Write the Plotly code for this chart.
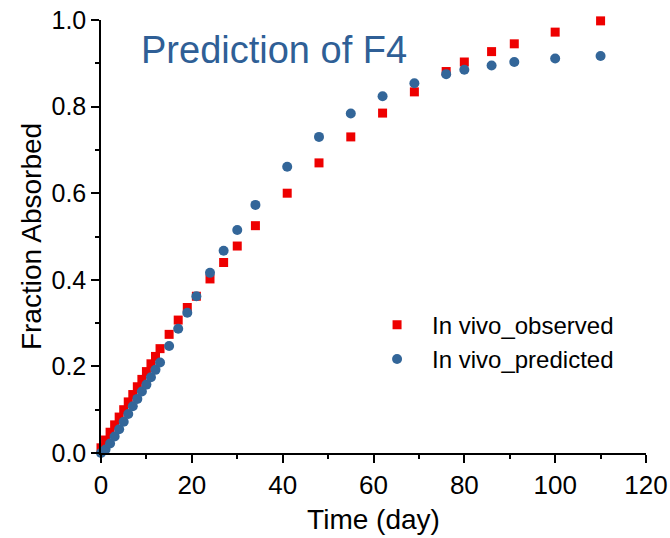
import plotly.graph_objects as go

obs_day = [0, 1, 2, 3, 4, 5, 6, 7, 8, 9, 10, 11, 12, 13, 15, 17, 19, 21, 24, 27, 30, 34,
           41, 48, 55, 62, 69, 76, 80, 86, 91, 100, 110]
obs_frac = [0.012, 0.030, 0.048, 0.065, 0.083, 0.100, 0.118, 0.135, 0.153, 0.170, 0.188,
            0.206, 0.223, 0.241, 0.274, 0.307, 0.336, 0.362, 0.402, 0.440, 0.478, 0.525,
            0.600, 0.670, 0.730, 0.785, 0.834, 0.881, 0.903, 0.927, 0.945, 0.972, 0.998]

pred_day = [0, 1, 2, 3, 4, 5, 6, 7, 8, 9, 10, 11, 12, 13, 15, 17, 19, 21, 24, 27, 30, 34,
            41, 48, 55, 62, 69, 76, 80, 86, 91, 100, 110]
pred_frac = [0.000, 0.008, 0.022, 0.038, 0.055, 0.072, 0.090, 0.108, 0.125, 0.142, 0.158,
             0.175, 0.192, 0.209, 0.247, 0.287, 0.324, 0.362, 0.416, 0.467, 0.515, 0.573,
             0.661, 0.730, 0.784, 0.824, 0.854, 0.875, 0.885, 0.895, 0.903, 0.911, 0.917]

FONT = "Arial, Liberation Sans, sans-serif"

fig = go.Figure()
fig.add_trace(go.Scatter(x=obs_day, y=obs_frac, mode="markers", name="In vivo_observed",
                         marker=dict(symbol="square", size=9, color="#EE0000"),
                         cliponaxis=False))
fig.add_trace(go.Scatter(x=pred_day, y=pred_frac, mode="markers", name="In vivo_predicted",
                         marker=dict(symbol="circle", size=10, color="#336699"),
                         cliponaxis=False))

axis_common = dict(showline=True, linecolor="black", linewidth=1.5, ticks="outside",
                   ticklen=8, tickwidth=1.5, tickcolor="black", showgrid=False,
                   zeroline=False, mirror=False, automargin=False)

fig.update_xaxes(range=[0, 120], dtick=20,
                 tickfont=dict(family=FONT, size=26, color="black"),
                 minor=dict(dtick=10, ticks="outside", ticklen=4, tickwidth=1.5, tickcolor="black"),
                 title=dict(text="Time (day)", font=dict(family=FONT, size=28, color="black"), standoff=10),
                 **axis_common)
fig.update_yaxes(range=[0, 1.0], dtick=0.2, tickformat=".1f",
                 tickfont=dict(family=FONT, size=25, color="black"),
                 minor=dict(dtick=0.1, ticks="outside", ticklen=4, tickwidth=1.5, tickcolor="black"),
                 title=dict(text="Fraction Absorbed", font=dict(family=FONT, size=28, color="black"), standoff=2),
                 **axis_common)

fig.add_annotation(text="Prediction of F4", xref="paper", yref="paper", x=0.07, y=0.93,
                   xanchor="left", yanchor="middle", showarrow=False,
                   font=dict(family=FONT, size=38, color="#2F5F96"))

fig.update_layout(width=670, height=538, margin=dict(l=101, r=24, t=20, b=85),
                  plot_bgcolor="white", paper_bgcolor="white",
                  legend=dict(x=0.479, y=0.347, xanchor="left", yanchor="top",
                              bgcolor="rgba(0,0,0,0)", itemwidth=60,
                              font=dict(family=FONT, size=24, color="black"),
                              tracegroupgap=0))

fig.write_html("out.html")
